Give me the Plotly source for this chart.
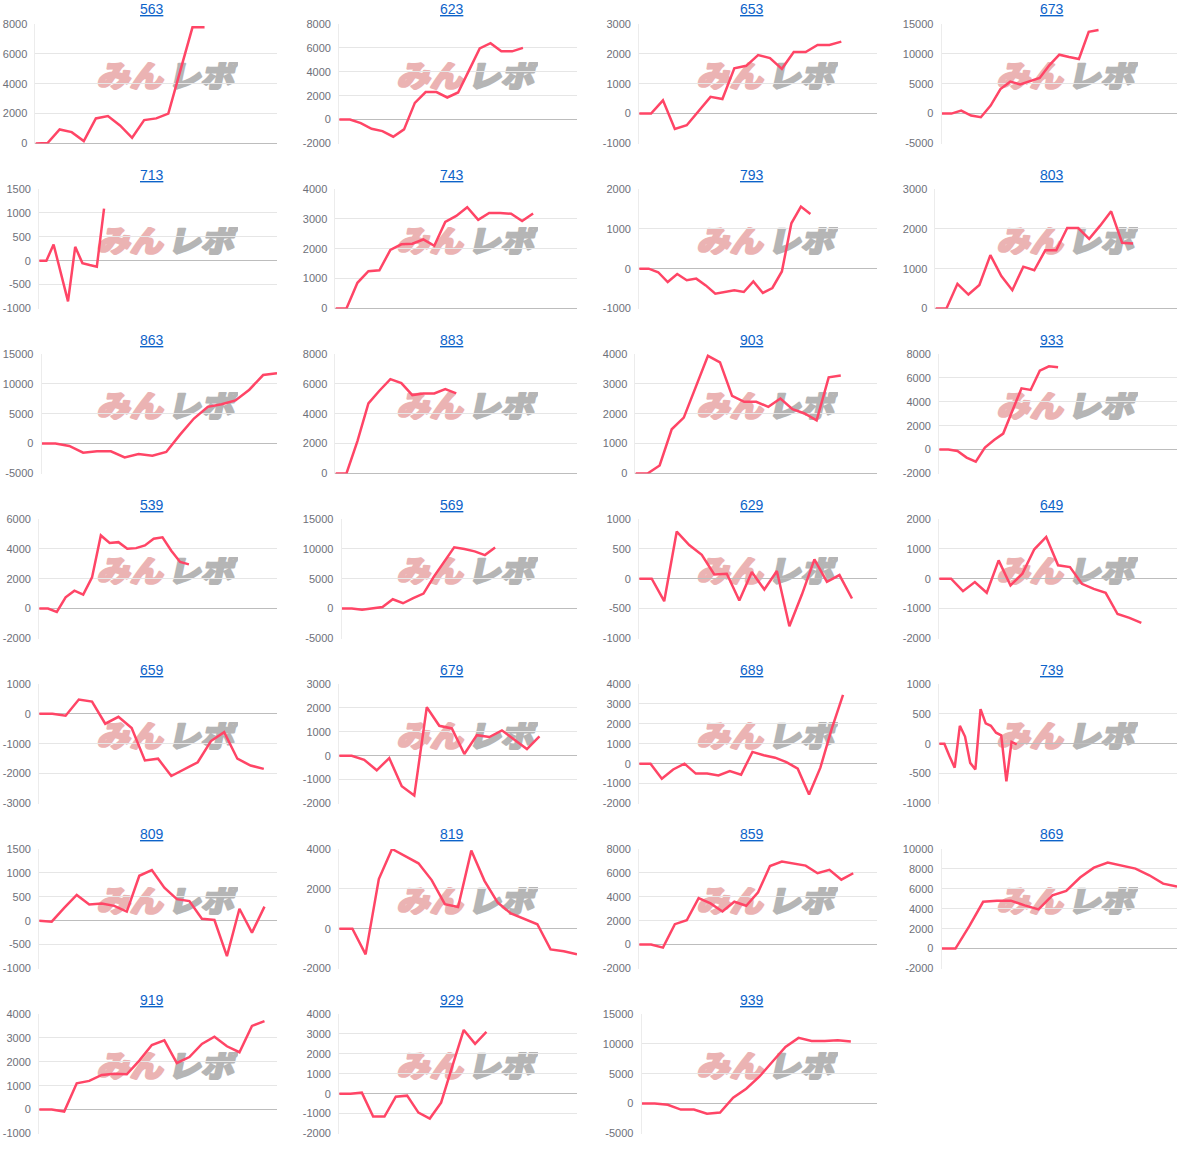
import base64
import plotly.graph_objects as go

# ---------------- data ----------------
titles = ["563", "623", "653", "673",
          "713", "743", "793", "803",
          "863", "883", "903", "933",
          "539", "569", "629", "649",
          "659", "679", "689", "739",
          "809", "819", "859", "869",
          "919", "929", "939"]

# number of day-slots on each panel's category x axis
n_days = [21, 23, 21, 25,
          34, 23, 26, 23,
          18, 23, 21, 27,
          28, 24, 20, 21,
          19, 20, 22, 47,
          20, 19, 21, 18,
          20, 22, 19]

y_min = [0, -2000, -1000, -5000,
         -1000, 0, -1000, 0,
         -5000, 0, 0, -2000,
         -2000, -5000, -1000, -2000,
         -3000, -2000, -2000, -1000,
         -1000, -2000, -2000, -2000,
         -1000, -2000, -5000]
y_max = [8000, 8000, 3000, 15000,
         1500, 4000, 2000, 3000,
         15000, 8000, 4000, 8000,
         6000, 15000, 1000, 2000,
         1000, 3000, 4000, 1000,
         1500, 4000, 8000, 10000,
         4000, 4000, 15000]
y_step = [2000, 2000, 1000, 5000,
          500, 1000, 1000, 1000,
          5000, 2000, 1000, 2000,
          2000, 5000, 500, 1000,
          1000, 1000, 1000, 500,
          500, 2000, 2000, 2000,
          1000, 1000, 5000]

s563 = [0, 30, 940, 760, 160, 1680, 1840, 1210, 380, 1570, 1680, 2000, 4900, 7780, 7780]
s623 = [0, 0, -300, -770, -960, -1430, -820, 1400, 2300, 2300, 1850, 2270, 4100, 5960, 6390, 5710, 5710, 6000]
s653 = [0, 0, 445, -510, -390, 100, 560, 490, 1520, 1600, 1960, 1860, 1500, 2060, 2060, 2300, 2300, 2410]
s673 = [0, 0, 500, -330, -610, 1340, 4120, 5350, 4900, 5400, 5960, 8130, 9860, 9470, 9140, 13700, 14000]
s713 = [0, 0, 340, -255, -850, 290, -50, -90, -125, 1090]
s743 = [0, 0, 860, 1250, 1280, 1960, 2150, 2170, 2310, 2100, 2900, 3100, 3390, 2970, 3200, 3200, 3170, 2930, 3180]
s793 = [0, 0, -90, -335, -135, -290, -250, -420, -630, -590, -545, -585, -320, -610, -485, -70, 1140, 1560, 1370]
s803 = [0, 0, 620, 350, 590, 1340, 815, 460, 1050, 960, 1460, 1460, 2020, 2020, 1750, 2080, 2440, 1650, 1630]
s863 = [0, 0, -390, -1510, -1290, -1290, -2300, -1740, -2020, -1400, 1510, 4200, 6160, 6600, 7230, 9020, 11480, 11760]
s883 = [0, 0, 2170, 4690, 5540, 6320, 6050, 5250, 5360, 5360, 5650, 5360]
s903 = [0, 0, 270, 1480, 1870, 2880, 3940, 3720, 2600, 2400, 2400, 2230, 2510, 2150, 2010, 1780, 3220, 3280]
s933 = [0, 0, -110, -670, -1010, 170, 810, 1340, 3250, 5130, 4990, 6610, 6970, 6890]
s539 = [0, 0, -220, 760, 1200, 935, 2090, 4900, 4390, 4450, 4010, 4050, 4230, 4680, 4770, 3880, 3120, 2960]
s569 = [0, 0, -170, 110, 280, 1570, 900, 1740, 2520, 5320, 7730, 10250, 9970, 9580, 8960, 10250]
s629 = [0, 0, -375, 790, 565, 400, 73, 84, -365, 112, -180, 130, -795, -265, 325, -50, 62, -330]
s649 = [0, 0, -415, -110, -470, 615, -225, 170, 985, 1400, 450, 390, -170, -340, -470, -1180, -1310, -1480]
s659 = [0, 0, -60, 480, 410, -330, -100, -470, -1560, -1500, -2080, -1860, -1620, -910, -610, -1500, -1730, -1840]
s679 = [0, 0, -170, -610, -100, -1280, -1670, 2030, 1250, 1140, 70, 860, 780, 1060, 670, 280, 810]
s689 = [0, 0, -760, -290, 0, -500, -500, -590, -370, -550, 590, 420, 300, 80, -250, -1550, -200, 1750, 3450]
s739 = [0, 0, -210, -400, 300, 120, -320, -430, 580, 340, 300, 185, 140, -630, 30, -10]
s809 = [0, -20, 270, 540, 340, 360, 310, 190, 940, 1060, 690, 450, 410, 40, 15, -740, 250, -250, 295]
s819 = [0, 0, -1290, 2490, 4000, 3660, 3280, 2440, 1230, 1090, 3920, 2400, 1310, 760, 490, 220, -1040, -1130, -1290]
s859 = [0, 0, -250, 1710, 2040, 3890, 3450, 2770, 3590, 3250, 4370, 6580, 6950, 6750, 6610, 5970, 6250, 5430, 5970]
s869 = [0, 0, 2250, 4700, 4810, 4810, 4340, 3930, 5340, 5780, 7130, 8130, 8640, 8300, 8030, 7360, 6520, 6220]
s919 = [0, 0, -80, 1100, 1200, 1450, 1500, 1480, 2050, 2700, 2900, 1950, 2200, 2750, 3050, 2650, 2400, 3500, 3700]
s929 = [0, 0, 50, -1150, -1150, -150, -100, -950, -1250, -450, 1400, 3200, 2500, 3100]
s939 = [0, 0, -200, -1000, -1000, -1700, -1500, 1000, 2500, 4500, 7000, 9500, 11000, 10500, 10500, 10600, 10400]

series = [s563, s623, s653, s673,
          s713, s743, s793, s803,
          s863, s883, s903, s933,
          s539, s569, s629, s649,
          s659, s679, s689, s739,
          s809, s819, s859, s869,
          s919, s929, s939]

# ---------------- styling / layout ----------------
W, H = 1200, 1155
OFF = 6  # vertical calibration of the rendered page
LINE_COLOR = "#ff4566"
GRID = "#e6e6e6"
ZERO = "#bdbdbd"
LABEL_FONT = dict(family="Liberation Sans, Arial, sans-serif", size=11, color="#6e7079")


def fy(px):
    return 1 - (px - OFF) / (H - 2 * OFF)


wm_svg = (
    '<svg xmlns="http://www.w3.org/2000/svg" width="143" height="28" viewBox="0 0 143 28">'
    '<g transform="skewX(-12)">'
    '<text x="7" y="25" font-family="Noto Sans CJK JP" font-weight="900" font-size="30" '
    'fill="#ebb3b3" stroke="#ebb3b3" stroke-width="2.2" stroke-linejoin="round" '
    'textLength="66" lengthAdjust="spacingAndGlyphs">みん</text>'
    '<text x="78" y="25" font-family="Noto Sans CJK JP" font-weight="900" font-size="30" '
    'fill="#b5b5b5" stroke="#b5b5b5" stroke-width="2.2" stroke-linejoin="round" '
    'textLength="66" lengthAdjust="spacingAndGlyphs">レポ</text>'
    '</g></svg>'
)
wm_src = "data:image/svg+xml;base64," + base64.b64encode(wm_svg.encode("utf-8")).decode("ascii")


def label_w(s):
    return sum(3.7 if ch == "-" else 6.12 for ch in s)


fig = go.Figure()
layout = {}
annotations = []
images = []

for i, name in enumerate(titles):
    r, c = divmod(i, 4)
    x0 = 300 * c
    ticks = list(range(y_min[i], y_max[i] + 1, y_step[i]))
    maxw = max(label_w(str(v)) for v in ticks)
    left = x0 + 11 + maxw
    right = x0 + 277
    top = 24 + 165 * r
    bottom = 143.5 + 165 * r
    sfx = "" if i == 0 else str(i + 1)
    vals = series[i]
    fig.add_trace(go.Scatter(
        x=list(range(len(vals))), y=vals, mode="lines",
        line=dict(color=LINE_COLOR, width=2.5),
        xaxis="x" + sfx, yaxis="y" + sfx,
        showlegend=False, hoverinfo="skip", cliponaxis=False,
    ))
    layout["xaxis" + sfx] = dict(
        domain=[left / W, right / W], range=[0, n_days[i] - 1],
        showgrid=False, zeroline=False, showticklabels=False, showline=False,
        ticks="", anchor="y" + sfx, fixedrange=True,
    )
    layout["yaxis" + sfx] = dict(
        domain=[fy(bottom), fy(top)], range=[y_min[i], y_max[i]],
        tickmode="array", tickvals=ticks, ticktext=[str(v) for v in ticks],
        showgrid=True, gridcolor=GRID, gridwidth=1,
        zeroline=True, zerolinecolor=ZERO, zerolinewidth=1.2,
        showline=True, linecolor="#ececec", linewidth=1,
        ticks="", ticklabelstandoff=5, tickfont=LABEL_FONT,
        anchor="x" + sfx, fixedrange=True,
    )
    annotations.append(dict(
        xref="paper", yref="paper", x=(x0 + 152) / W, y=fy(9.5 + 165 * r),
        xanchor="center", yanchor="middle", showarrow=False,
        text="<u>" + name + "</u>",
        font=dict(family="Liberation Sans, Arial, sans-serif", size=14, color="#0d63c9"),
    ))
    images.append(dict(
        source=wm_src, xref="paper", yref="paper",
        x=(x0 + 95) / W, y=fy(62 + 165 * r),
        sizex=143 / W, sizey=28 / (H - 2 * OFF), sizing="stretch",
        xanchor="left", yanchor="top", layer="below", opacity=1,
    ))

fig.update_layout(
    width=W, height=H, margin=dict(l=0, r=0, t=0, b=0),
    paper_bgcolor="white", plot_bgcolor="white",
    annotations=annotations, images=images, **layout,
)

fig.write_html("out.html", config={"displayModeBar": False},
               post_script="document.body.style.margin='0';")
